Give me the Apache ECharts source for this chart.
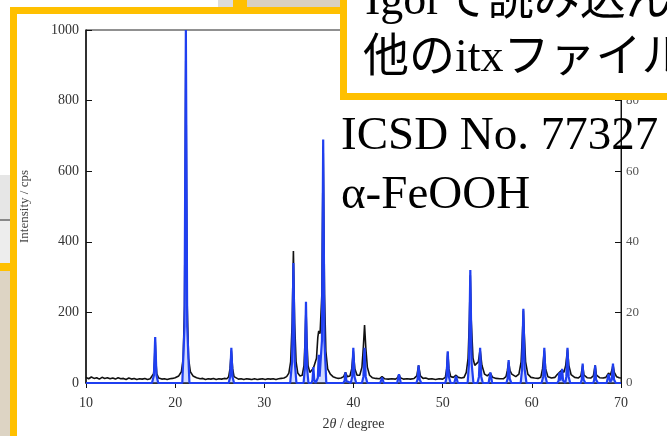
<!DOCTYPE html>
<html>
<head>
<meta charset="utf-8">
<script src="https://cdn.jsdelivr.net/npm/echarts@6/dist/echarts.min.js"></script>
<style>
  html, body { margin: 0; padding: 0; background: #fff; }
  #xrd { width: 667px; height: 436px; }
</style>
</head>
<body>
<div id="xrd"></div>
<script>
// tick labels
var angleTicks = [10, 20, 30, 40, 50, 60, 70];
var countTicks = [0, 200, 400, 600, 800, 1000];
var relTicks = [0, 20, 40, 60, 80, 100];

// measured pattern, [2theta, cps]
var measured = [
  [10.0,16],[10.3,12],[10.6,17],[10.9,13],[11.2,15],[11.5,11],[11.8,16],[12.1,13],[12.4,15],[12.7,12],
  [13.0,14],[13.3,11],[13.6,15],[13.9,12],[14.2,13],[14.5,10],[14.8,14],[15.1,11],[15.4,13],[15.7,10],
  [16.0,12],[16.3,11],[16.6,13],[16.9,10],[17.2,12],
  [17.4,14],[17.58,26],[17.68,60],[17.76,120],[17.84,60],[17.94,26],[18.15,14],
  [18.5,11],[18.8,12],[19.1,10],[19.4,12],[19.7,13],[20.0,15],
  [20.4,20],[20.7,32],[20.9,70],[21.05,220],[21.13,560],[21.2,980],[21.27,560],[21.35,220],[21.5,70],[21.7,32],[22.0,20],[22.4,15],
  [22.8,12],[23.1,13],[23.4,10],[23.7,12],[24.0,11],[24.3,13],[24.6,10],[24.9,12],[25.2,11],[25.5,13],[25.8,12],
  [26.0,18],[26.15,40],[26.3,92],[26.45,40],[26.6,18],[26.8,13],
  [27.1,11],[27.4,12],[27.7,10],[28.0,12],[28.3,11],[28.6,10],[28.9,12],[29.2,10],[29.5,11],[29.8,12],
  [30.1,10],[30.4,12],[30.7,11],[31.0,12],[31.3,10],[31.6,12],[31.9,13],[32.2,14],[32.5,18],
  [32.75,28],[32.95,60],[33.12,170],[33.26,374],[33.4,170],[33.56,60],[33.75,28],[34.0,20],[34.25,22],
  [34.45,50],[34.57,120],[34.67,215],[34.77,120],[34.9,50],
  [35.1,30],[35.3,32],[35.5,42],[35.7,45],[35.85,70],[36.0,130],[36.1,148],[36.25,140],[36.45,250],[36.6,670],
  [36.75,250],[36.9,90],[37.1,40],[37.4,25],[37.7,18],[38.0,15],[38.3,13],[38.6,14],[38.9,18],[39.1,30],
  [39.3,18],[39.6,20],[39.8,40],[39.98,90],[40.15,40],[40.4,22],[40.7,22],[40.95,45],[41.1,100],[41.24,164],
  [41.38,100],[41.55,45],[41.8,22],[42.1,15],[42.5,13],[42.9,12],[43.2,18],[43.5,12],[43.9,11],[44.3,12],
  [44.7,11],[44.95,15],[45.1,25],[45.25,15],[45.6,11],[46.0,12],[46.4,11],[46.8,13],[47.1,20],[47.3,50],
  [47.5,20],[47.8,13],[48.1,14],[48.4,11],[48.8,12],[49.2,10],[49.6,12],[50.0,11],[50.3,16],[50.45,40],
  [50.57,88],[50.7,40],[50.9,18],[51.2,16],[51.5,22],[51.75,16],[52.1,14],[52.4,16],[52.65,30],[52.85,70],
  [53.0,180],[53.1,305],[53.2,180],[53.4,70],[53.6,50],[53.8,45],[54.0,60],[54.2,95],[54.4,50],[54.7,25],
  [55.0,20],[55.35,28],[55.6,16],[56.0,13],[56.4,12],[56.8,12],[57.1,18],[57.25,35],[57.4,60],[57.55,35],
  [57.75,25],[57.95,20],[58.2,18],[58.55,25],[58.8,60],[58.95,140],[59.05,205],[59.15,140],[59.3,60],[59.55,25],
  [59.9,16],[60.3,14],[60.7,13],[61.0,16],[61.2,40],[61.4,92],[61.55,40],[61.8,18],[62.2,14],[62.6,16],
  [62.85,24],[63.1,30],[63.25,27],[63.4,37],[63.6,30],[63.8,50],[64.0,95],[64.15,50],[64.4,24],[64.8,16],
  [65.2,14],[65.5,20],[65.7,50],[65.85,22],[66.2,15],[66.6,14],[66.9,20],[67.1,50],[67.25,22],[67.6,15],
  [68.0,14],[68.3,16],[68.6,28],[68.8,22],[69.0,38],[69.1,52],[69.25,30],[69.5,18],[69.8,15],[70.0,14]
];

// ICSD 77327 reference pattern, [2theta, relative intensity %]
var reference = [
  [10,0],[17.4,0],[17.62,2.2],[17.76,13],[17.9,2.2],[18.1,0],
  [20.8,0],[21.05,16],[21.2,100],[21.35,16],[21.6,0],
  [26.0,0],[26.17,1.8],[26.3,10],[26.43,1.8],[26.6,0],
  [32.9,0],[33.11,6],[33.26,34],[33.41,6],[33.6,0],
  [34.4,0],[34.54,4],[34.67,23],[34.8,4],[34.95,0],
  [35.3,0],[35.4,0.8],[35.5,4.5],[35.6,0.8],[35.75,0],
  [35.9,0.5],[36.0,1.5],[36.1,8],[36.2,1.8],[36.3,2.2],[36.46,12],[36.6,69],[36.74,12],[36.95,0],
  [38.85,0],[39.0,0.6],[39.1,3],[39.2,0.6],[39.7,0],
  [39.85,1.8],[39.98,10],[40.11,1.8],[40.3,0],
  [40.95,0],[41.11,1.8],[41.24,10],[41.37,1.8],[41.55,0],
  [43.0,0],[43.2,1.5],[43.4,0],
  [44.9,0],[45.1,2.5],[45.3,0],
  [47.05,0],[47.18,1],[47.3,5],[47.42,1],[47.6,0],
  [50.3,0],[50.44,1.7],[50.57,9],[50.7,1.7],[50.9,0],
  [51.3,0],[51.5,2],[51.7,0],
  [52.8,0],[52.95,5.5],[53.1,32],[53.25,5.5],[53.45,0],
  [53.9,0],[54.07,1.8],[54.2,10],[54.33,1.8],[54.5,0],
  [55.15,0],[55.35,3],[55.55,0],
  [57.15,0],[57.28,1.2],[57.4,6.5],[57.52,1.2],[57.7,0],
  [58.75,0],[58.9,3.8],[59.05,21],[59.2,3.8],[59.4,0],
  [61.1,0],[61.27,1.8],[61.4,10],[61.53,1.8],[61.7,0],
  [62.85,0],[63.0,0.6],[63.1,3],[63.2,0.7],[63.4,4],[63.5,0.7],[63.75,0],
  [63.87,1.8],[64.0,10],[64.13,1.8],[64.3,0],
  [65.5,0],[65.6,1],[65.7,5.5],[65.8,1],[66.0,0],
  [66.9,0],[67.0,1],[67.1,5],[67.2,1],[67.4,0],
  [68.4,0],[68.6,2.5],[68.8,0.3],[68.97,1],[69.1,5.5],[69.22,1],[69.4,0],[70,0]
];

var serif = '"Liberation Serif", "Times New Roman", serif';
var mixed = '"Liberation Serif", "Noto Sans CJK JP", serif';
var orange = '#FFC000';

var myChart = echarts.init(document.getElementById('xrd'));

option = {
    backgroundColor: '#fff',
    animation: false,
    grid: {
        left: 86, right: 46, top: 30, bottom: 49,
        show: true, borderColor: '#222', borderWidth: 1, backgroundColor: '#fff'
    },
    xAxis: {
        type: 'value',
        min: angleTicks[0], max: angleTicks[angleTicks.length - 1], interval: 10,
        name: '2{i|θ} / degree',
        nameLocation: 'middle', nameGap: 34,
        nameTextStyle: {
            fontFamily: serif, fontSize: 14, color: '#333',
            rich: { i: { fontFamily: serif, fontStyle: 'italic', fontSize: 14, color: '#333' } }
        },
        axisLine: { lineStyle: { color: '#111', width: 1.5 } },
        axisTick: { length: 5, lineStyle: { color: '#111' } },
        axisLabel: { fontFamily: serif, fontSize: 14, color: '#333', margin: 13 },
        splitLine: { show: false }
    },
    yAxis: [
        {
            type: 'value',
            min: countTicks[0], max: countTicks[countTicks.length - 1], interval: 200,
            name: 'Intensity / cps',
            nameLocation: 'middle', nameGap: 55,
            nameTextStyle: { fontFamily: serif, fontSize: 13, color: '#444' },
            axisLine: { show: true, lineStyle: { color: '#111', width: 1.5 } },
            axisTick: { show: true, inside: true, length: 6, lineStyle: { color: '#111' } },
            axisLabel: {
                fontFamily: serif, fontSize: 14, color: '#333', margin: 7,
                formatter: function (v) { return String(v); }
            },
            splitLine: { show: false }
        },
        {
            type: 'value', position: 'right',
            min: relTicks[0], max: relTicks[relTicks.length - 1], interval: 20,
            axisLine: { show: true, lineStyle: { color: '#111', width: 1 } },
            axisTick: { show: true, inside: true, length: 6, lineStyle: { color: '#111' } },
            axisLabel: { fontFamily: serif, fontSize: 13, color: '#555', margin: 5 },
            splitLine: { show: false }
        }
    ],
    series: [
        {
            name: 'measured', type: 'line', yAxisIndex: 0,
            data: measured, showSymbol: false, z: 2,
            lineStyle: { color: '#111', width: 1.6 }
        },
        {
            name: 'ICSD 77327', type: 'line', yAxisIndex: 1,
            data: reference, showSymbol: false, z: 3,
            lineStyle: { color: '#1f3ff0', width: 2.2 },
            areaStyle: { color: 'rgba(110,140,255,0.45)' }
        }
    ],
    graphic: [
        // slide background around the picture
        { type: 'rect', z: 50, shape: { x: 0, y: 175, width: 10, height: 45 }, style: { fill: '#e6e6e6' } },
        { type: 'rect', z: 50, shape: { x: 0, y: 219, width: 10, height: 2 }, style: { fill: '#888' } },
        { type: 'rect', z: 50, shape: { x: 0, y: 221, width: 10, height: 42 }, style: { fill: '#ededed' } },
        { type: 'rect', z: 50, shape: { x: 0, y: 263, width: 10, height: 8 }, style: { fill: orange } },
        { type: 'rect', z: 50, shape: { x: 0, y: 271, width: 10, height: 165 }, style: { fill: '#ddd4c4' } },
        { type: 'rect', z: 50, shape: { x: 218, y: 0, width: 15, height: 7 }, style: { fill: '#dcdcdc' } },
        { type: 'rect', z: 50, shape: { x: 233, y: 0, width: 14, height: 7 }, style: { fill: orange } },
        { type: 'rect', z: 50, shape: { x: 247, y: 0, width: 95, height: 7 }, style: { fill: '#d9d0c0' } },
        // picture frame
        { type: 'rect', z: 50, shape: { x: 10, y: 7, width: 7, height: 429 }, style: { fill: orange } },
        { type: 'rect', z: 50, shape: { x: 10, y: 7, width: 334, height: 7 }, style: { fill: orange } },
        // callout box
        { type: 'rect', z: 100, shape: { x: 343.5, y: -20, width: 400, height: 116.5 },
          style: { fill: '#fff', stroke: orange, lineWidth: 7 } },
        { type: 'text', z: 101, x: 365, y: 2,
          style: { text: 'Igorで読み込んだ', font: '46px ' + mixed, fill: '#000', verticalAlign: 'middle' } },
        { type: 'text', z: 101, x: 363, y: 59,
          style: { text: '他のitxファイルも', font: '46px ' + mixed, fill: '#000', verticalAlign: 'middle' } },
        // labels over the plot
        { type: 'text', z: 101, x: 341, y: 137,
          style: { text: 'ICSD No. 77327', font: '47px ' + serif, fill: '#000', verticalAlign: 'middle' } },
        { type: 'text', z: 101, x: 341, y: 196,
          style: { text: 'α-FeOOH', font: '47px ' + serif, fill: '#000', verticalAlign: 'middle' } }
    ]
};
myChart.setOption(option);
</script>
</body>
</html>
